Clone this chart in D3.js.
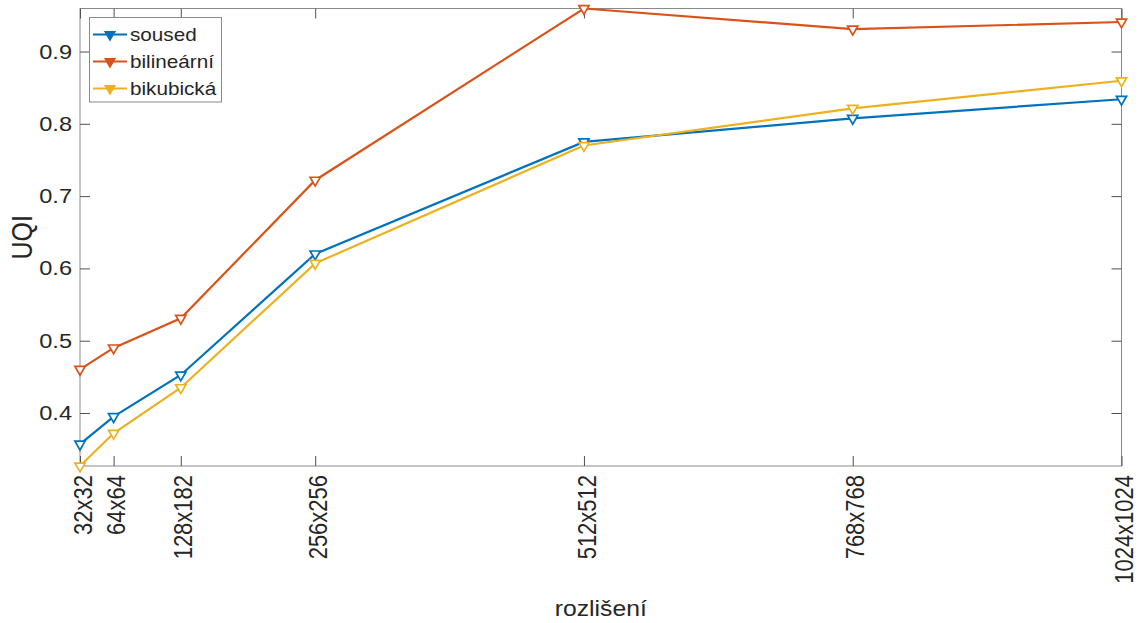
<!DOCTYPE html>
<html><head><meta charset="utf-8">
<script src="https://cdn.jsdelivr.net/npm/d3@7"></script>
<style>body{margin:0;background:#fff}svg{display:block}text{font-family:"Liberation Sans",Arial,sans-serif;fill:#262626}</style>
</head><body><svg id="c" width="1141" height="623"></svg>
<script>
const xValues = [32, 64, 128, 256, 512, 768, 1024];
const xTickLabels = ["32x32", "64x64", "128x182", "256x256", "512x512", "768x768", "1024x1024"];
const yTicks = [0.4, 0.5, 0.6, 0.7, 0.8, 0.9];
const seriesNames = ["soused", "bilineární", "bikubická"];
const soused = [0.357, 0.395, 0.4526, 0.620, 0.775, 0.8076, 0.834];
const bilinearni = [0.4604, 0.490, 0.531, 0.722, 0.9595, 0.931, 0.9408];
const bikubicka = [0.3267, 0.372, 0.435, 0.607, 0.770, 0.8214, 0.8596];
const colors = ["#0072BD", "#D95319", "#EDB120"];
const series = [soused, bilinearni, bikubicka];

const svg = d3.select("#c");
const L = 80, R = 1121.5, T = 8.5, B = 466;
const S = 1.15; // horizontal glyph stretch seen in the reference
const x = d3.scaleLinear().domain([32, 1024]).range([L, R]);
const y = d3.scaleLinear().domain([0.3267, 0.9595]).range([B, T]);
const axCol = "#8a8a8a";

// box
svg.append("rect").attr("x", L).attr("y", T).attr("width", R - L).attr("height", B - T)
  .attr("fill", "none").attr("stroke", axCol).attr("stroke-width", 1);

// axes
const xAxis = d3.axisBottom(x).tickValues(xValues).tickFormat((d, i) => xTickLabels[i]).tickSizeInner(-10).tickSizeOuter(0);
const gx = svg.append("g").attr("transform", `translate(0,${B})`).call(xAxis);
gx.select(".domain").remove();
gx.selectAll("line").attr("stroke", "#505050");
gx.selectAll("text").attr("transform", `rotate(-90) scale(1,${S})`).attr("text-anchor", "end")
  .attr("x", -9).attr("y", 0).attr("dy", 9.6).style("font-size", "22px").attr("fill", "#262626");

const gxt = svg.append("g").attr("transform", `translate(0,${T})`).call(d3.axisTop(x).tickValues(xValues).tickFormat("").tickSizeInner(-10).tickSizeOuter(0));
gxt.select(".domain").remove();
gxt.selectAll("line").attr("stroke", "#505050");

const yAxis = d3.axisLeft(y).tickValues(yTicks).tickFormat(d3.format(".1f")).tickSizeInner(-10).tickSizeOuter(0);
const gy = svg.append("g").attr("transform", `translate(${L},0)`).call(yAxis);
gy.select(".domain").remove();
gy.selectAll("line").attr("stroke", "#505050");
gy.selectAll("text").style("font-size", "20.5px").attr("fill", "#262626")
  .attr("x", -8 / S).attr("transform", `scale(${S},1)`).attr("text-anchor", "end");

const gyr = svg.append("g").attr("transform", `translate(${R},0)`).call(d3.axisRight(y).tickValues(yTicks).tickFormat("").tickSizeInner(-10).tickSizeOuter(0));
gyr.select(".domain").remove();
gyr.selectAll("line").attr("stroke", "#505050");

// labels
svg.append("text").attr("transform", `translate(32,${(T + B) / 2}) rotate(-90) scale(1,${S})`).attr("text-anchor", "middle")
  .style("font-size", "25px").text("UQI");
svg.append("text").attr("transform", `translate(${(L + R) / 2},616) scale(${S},1)`).attr("text-anchor", "middle")
  .style("font-size", "21.5px").text("rozlišení");

// lines
const line = d3.line().x((d, i) => x(xValues[i])).y(d => y(d));
const tri = d3.symbol().type(d3.symbolTriangle).size(45);
series.forEach((s, k) => {
  svg.append("path").datum(s).attr("d", line).attr("fill", "none").attr("stroke", colors[k]).attr("stroke-width", 2.2);
  svg.append("g").selectAll("path").data(s).join("path")
    .attr("d", tri).attr("transform", (d, i) => `translate(${x(xValues[i])},${y(d)}) rotate(180)`)
    .attr("fill", "#fff").attr("stroke", colors[k]).attr("stroke-width", 1.7);
});

// legend
const lg = svg.append("g");
lg.append("rect").attr("x", 89.5).attr("y", 17.5).attr("width", 132).attr("height", 84.5)
  .attr("fill", "#fff").attr("stroke", axCol).attr("stroke-width", 1);
seriesNames.forEach((n, k) => {
  const cy = 34.5 + k * 27;
  lg.append("line").attr("x1", 93).attr("x2", 127).attr("y1", cy).attr("y2", cy).attr("stroke", colors[k]).attr("stroke-width", 2.2);
  lg.append("path").attr("d", tri).attr("transform", `translate(110,${cy}) rotate(180)`)
    .attr("fill", colors[k]).attr("stroke", colors[k]).attr("stroke-width", 1.2);
  lg.append("text").attr("transform", `translate(130,${cy}) scale(${S},1)`).attr("dy", "0.35em").style("font-size", "18px").text(n);
});
</script></body></html>
